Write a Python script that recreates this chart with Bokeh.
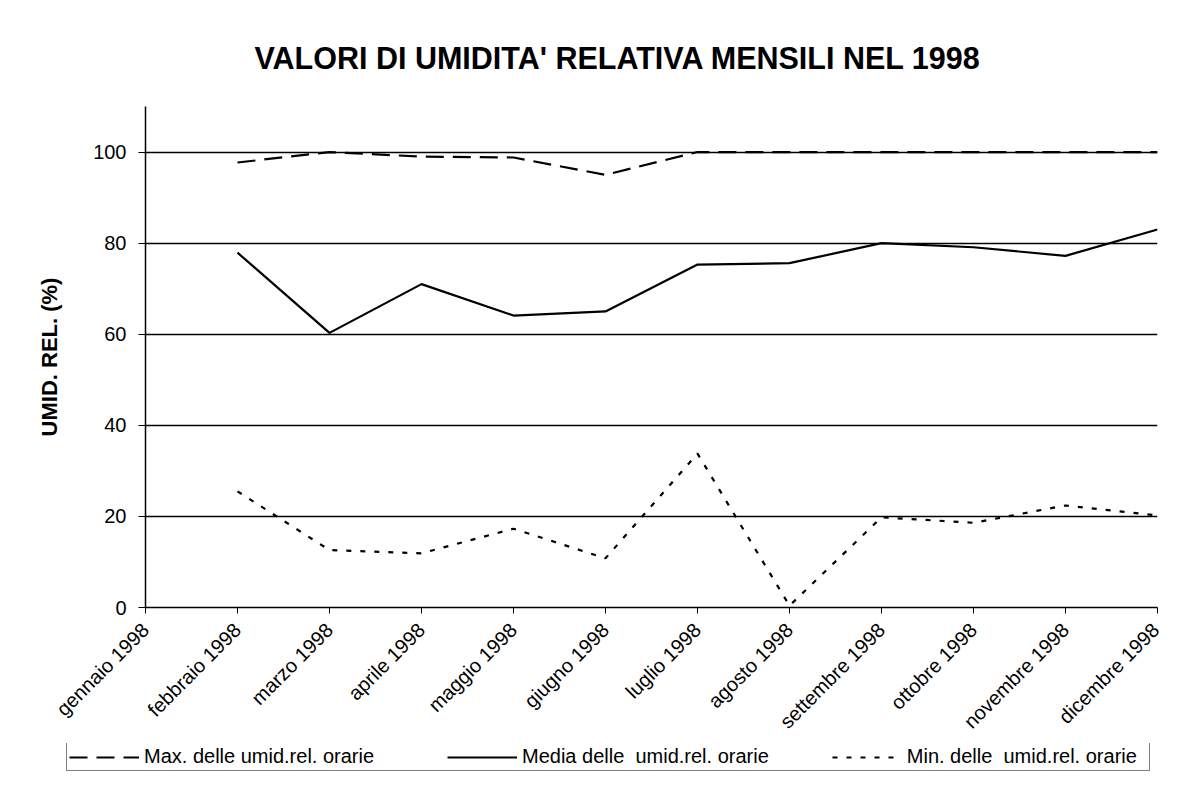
import math
import numpy as np
from bokeh.plotting import figure
from bokeh.layouts import column
from bokeh.models import Range1d, FixedTicker, Legend, LegendItem, Title
from bokeh.embed import file_html
from bokeh.resources import INLINE

# ---- data ----
months = ["gennaio 1998", "febbraio 1998", "marzo 1998", "aprile 1998",
          "maggio 1998", "giugno 1998", "luglio 1998", "agosto 1998",
          "settembre 1998", "ottobre 1998", "novembre 1998", "dicembre 1998"]
max_vals = [np.nan, 97.7, 100.0, 99.0, 98.8, 95.0, 100.0, 100.0, 100.0, 100.0, 100.0, 100.0]
mean_vals = [np.nan, 77.9, 60.3, 71.0, 64.1, 65.0, 75.3, 75.6, 80.0, 79.1, 77.2, 83.0]
min_vals = [np.nan, 25.5, 12.6, 11.9, 17.3, 10.8, 33.8, 0.4, 19.8, 18.6, 22.4, 20.2]
y_ticks = [0, 20, 40, 60, 80, 100]
series_labels = ["Max. delle umid.rel. orarie",
                 "Media delle  umid.rel. orarie",
                 "Min. delle  umid.rel. orarie"]
title_text = "VALORI DI UMIDITA' RELATIVA  MENSILI NEL 1998"
y_label = "UMID. REL. (%)"

x = list(range(len(months)))
FONT = "Liberation Sans"
W = 1163
LEG_H = 29

styles = [dict(line_color="black", line_width=2.2, line_dash="18 9"),
          dict(line_color="black", line_width=2.2),
          dict(line_color="black", line_width=2.2, line_dash="5 9")]
series = [max_vals, mean_vals, min_vals]

# ---- main chart ----
p = figure(width=W, height=772 - LEG_H, output_backend="svg", toolbar_location=None,
           x_range=Range1d(0, 11), y_range=Range1d(0, 110),
           min_border_left=145, min_border_right=6, min_border_top=106,
           min_border_bottom=133)
p.background_fill_color = "white"
p.border_fill_color = "white"
p.outline_line_color = None
try:
    p.frame_align = False
except Exception:
    pass

t = Title(text=title_text, align="left", offset=109,
          text_font=FONT, text_font_size="30.5px", text_font_style="bold",
          text_color="black", standoff=64)
p.add_layout(t, "above")

p.xaxis.ticker = FixedTicker(ticks=x)
p.xaxis.major_label_overrides = {i: m for i, m in enumerate(months)}
p.xaxis.major_label_orientation = math.pi / 4
p.xaxis.major_label_text_font = FONT
p.xaxis.major_label_text_font_size = "20px"
p.xaxis.major_label_text_color = "black"
p.xaxis.major_label_standoff = 13
p.xaxis.major_tick_out = 6
p.xaxis.major_tick_in = 0
p.xaxis.minor_tick_line_color = None
p.xaxis.axis_line_color = "black"
p.xaxis.axis_line_width = 1.5
p.xaxis.major_tick_line_color = "black"

p.yaxis.ticker = FixedTicker(ticks=y_ticks)
p.yaxis.major_label_text_font = FONT
p.yaxis.major_label_text_font_size = "20px"
p.yaxis.major_label_text_color = "black"
p.yaxis.major_label_standoff = 12
p.yaxis.major_tick_out = 7
p.yaxis.major_tick_in = 0
p.yaxis.minor_tick_line_color = None
p.yaxis.axis_line_color = "black"
p.yaxis.axis_line_width = 1.5
p.yaxis.major_tick_line_color = "black"
p.yaxis.axis_label = y_label
p.yaxis.axis_label_text_font = FONT
p.yaxis.axis_label_text_font_size = "22px"
p.yaxis.axis_label_text_font_style = "bold"
p.yaxis.axis_label_text_color = "black"
p.yaxis.axis_label_standoff = 28

p.xgrid.grid_line_color = None
p.ygrid.ticker = FixedTicker(ticks=y_ticks[1:])
p.ygrid.grid_line_color = "black"
p.ygrid.grid_line_width = 1.3
p.ygrid.grid_line_alpha = 1.0

for vals, st in zip(series, styles):
    p.line(x, vals, **st)

# ---- legend strip (same series, drawn out of view so only the legend shows) ----
pl = figure(width=W, height=LEG_H, output_backend="svg", toolbar_location=None,
            x_range=Range1d(0, 11), y_range=Range1d(1000, 1001),
            min_border_left=0, min_border_right=0, min_border_top=0,
            min_border_bottom=0)
pl.axis.visible = False
pl.grid.visible = False
pl.outline_line_color = None
pl.background_fill_color = "white"
pl.border_fill_color = "white"
try:
    pl.frame_align = False
except Exception:
    pass
leg_renderers = [pl.line(x, vals, **st) for vals, st in zip(series, styles)]

legend = Legend(items=[LegendItem(label=lab, renderers=[r])
                       for lab, r in zip(series_labels, leg_renderers)],
                orientation="horizontal", location=(66, 1),
                glyph_width=70, glyph_height=20, label_standoff=5,
                label_width=240, spacing=63, padding=2, margin=0,
                label_text_font=FONT, label_text_font_size="20px",
                label_text_color="black",
                border_line_color="black", border_line_width=1.2,
                background_fill_color="white", background_fill_alpha=1.0)
pl.add_layout(legend)

layout = column(p, pl, spacing=0)
open("out.html", "w").write(file_html(layout, INLINE))
